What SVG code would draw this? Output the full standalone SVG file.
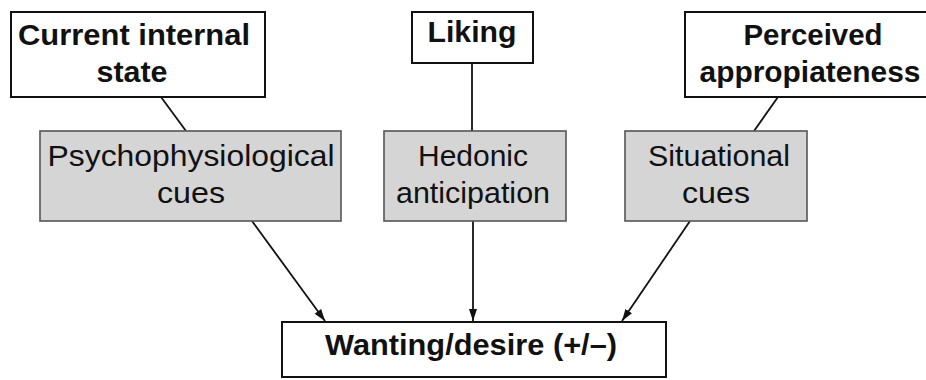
<svg xmlns="http://www.w3.org/2000/svg" width="926" height="380" viewBox="0 0 926 380">
<defs>
<style>
.top{fill:#fff;stroke:#111;stroke-width:2}
.mid{fill:#d5d5d5;stroke:#555;stroke-width:1.6}
.b{font-family:"Liberation Sans",Arial,sans-serif;font-weight:bold;font-size:29px;fill:#111;text-anchor:middle}
.r{font-family:"Liberation Sans",Arial,sans-serif;font-size:29px;fill:#111;text-anchor:middle}
.ln{stroke:#111;stroke-width:1.8;fill:none}
</style>
<marker id="ah" viewBox="0 0 12 8" refX="12" refY="4" markerWidth="12" markerHeight="8" markerUnits="userSpaceOnUse" orient="auto">
<path d="M0,0 L12,4 L0,8 Z" fill="#111"/>
</marker>
</defs>
<rect width="926" height="380" fill="#fff"/>
<g id="connectors">
<line class="ln" x1="161" y1="97" x2="186" y2="131"/>
<line class="ln" x1="472" y1="63" x2="472" y2="131"/>
<line class="ln" x1="778" y1="97" x2="754" y2="131"/>
<line class="ln" x1="252" y1="221" x2="325" y2="321" marker-end="url(#ah)"/>
<line class="ln" x1="473" y1="221" x2="473" y2="321" marker-end="url(#ah)"/>
<line class="ln" x1="690" y1="221" x2="622" y2="321" marker-end="url(#ah)"/>
</g>
<g id="current">
<rect class="top" x="11" y="12" width="254" height="85"/>
<text class="b" x="134" y="45" textLength="232" lengthAdjust="spacingAndGlyphs">Current internal</text>
<text class="b" x="132" y="82" textLength="71" lengthAdjust="spacingAndGlyphs">state</text>
</g>
<g id="liking">
<rect class="top" x="412" y="12" width="121" height="51"/>
<text class="b" x="472" y="42" textLength="89" lengthAdjust="spacingAndGlyphs">Liking</text>
</g>
<g id="perceived">
<rect class="top" x="685" y="12" width="245" height="85"/>
<text class="b" x="813" y="45" textLength="139" lengthAdjust="spacingAndGlyphs">Perceived</text>
<text class="b" x="810" y="82" textLength="221" lengthAdjust="spacingAndGlyphs">appropiateness</text>
</g>
<g id="psycho">
<rect class="mid" x="40" y="131" width="301" height="90"/>
<text class="r" x="191" y="166" textLength="287" lengthAdjust="spacingAndGlyphs">Psychophysiological</text>
<text class="r" x="191" y="203" textLength="68" lengthAdjust="spacingAndGlyphs">cues</text>
</g>
<g id="hedonic">
<rect class="mid" x="384" y="131" width="182" height="90"/>
<text class="r" x="473" y="166" textLength="110" lengthAdjust="spacingAndGlyphs">Hedonic</text>
<text class="r" x="473" y="203" textLength="154" lengthAdjust="spacingAndGlyphs">anticipation</text>
</g>
<g id="situational">
<rect class="mid" x="625" y="131" width="182" height="90"/>
<text class="r" x="719" y="166" textLength="142" lengthAdjust="spacingAndGlyphs">Situational</text>
<text class="r" x="716" y="203" textLength="68" lengthAdjust="spacingAndGlyphs">cues</text>
</g>
<g id="wanting">
<rect class="top" x="282" y="322" width="384" height="55"/>
<text class="b" x="471" y="355" textLength="292" lengthAdjust="spacingAndGlyphs">Wanting/desire (+/–)</text>
</g>
</svg>
